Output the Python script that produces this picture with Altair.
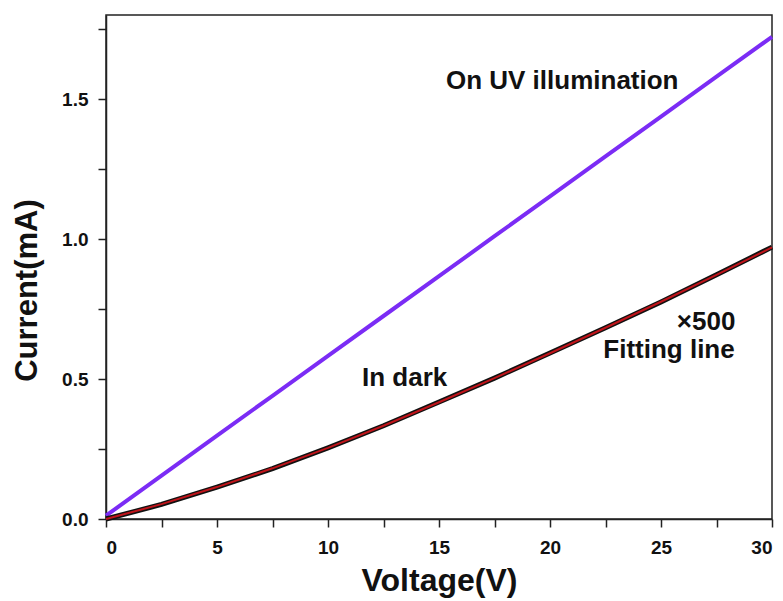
import altair as alt
import pandas as pd

# ---- data ----
voltage = [0, 2.5, 5, 7.5, 10, 12.5, 15, 17.5, 20, 22.5, 25, 27.5, 30]
uv_current = [0.012, 0.155, 0.298, 0.44, 0.583, 0.725, 0.867, 1.01, 1.152, 1.295, 1.437, 1.58, 1.722]
dark_current = [0.0, 0.052, 0.114, 0.18, 0.254, 0.333, 0.418, 0.503, 0.593, 0.683, 0.775, 0.872, 0.971]
fit_current = [0.0, 0.053, 0.114, 0.181, 0.254, 0.333, 0.417, 0.503, 0.592, 0.683, 0.776, 0.872, 0.970]

label_text = ["On UV illumination", "In dark", "×500", "Fitting line"]
label_v = [20.55, 13.45, 27.03, 25.36]
label_i = [1.564, 0.504, 0.704, 0.604]

x_ticks = [0, 2.5, 5, 7.5, 10, 12.5, 15, 17.5, 20, 22.5, 25, 27.5, 30]
y_ticks = [0, 0.25, 0.5, 0.75, 1.0, 1.25, 1.5, 1.75]

df = pd.DataFrame({"V": voltage, "uv": uv_current, "dark": dark_current, "fit": fit_current})
lab = pd.DataFrame({"t": label_text, "V": label_v, "I": label_i})

FONT = "Liberation Sans"

x_enc = alt.X("V:Q", scale=alt.Scale(domain=[0, 30], nice=False, zero=False),
              axis=alt.Axis(values=x_ticks, title="Voltage(V)",
                            labelExpr="datum.value % 5 == 0 ? datum.label : ''",
                            format="d", titleY=71, titleBaseline="alphabetic"))

y_axis = alt.Axis(values=y_ticks, title="Current(mA)",
                  labelExpr="datum.value % 0.5 == 0 ? format(datum.value, '.1f') : ''",
                  titleX=-63, titleY=275, titleBaseline="bottom", titleAngle=-90,
                  titleFontSize=31)
y_scale = alt.Scale(domain=[0, 1.8], nice=False)

base = alt.Chart(df)

uv = base.mark_line(color="#7b2cf5", strokeWidth=4).encode(
    x=x_enc, y=alt.Y("uv:Q", scale=y_scale, axis=y_axis))
dark = base.mark_line(color="#111111", strokeWidth=5).encode(
    x=x_enc, y=alt.Y("dark:Q", scale=y_scale, axis=y_axis))
fit = base.mark_line(color="#c0141a", strokeWidth=2).encode(
    x=x_enc, y=alt.Y("fit:Q", scale=y_scale, axis=y_axis))

texts = alt.Chart(lab).mark_text(font=FONT, fontWeight="bold", fontSize=26,
                                 color="#111111", align="center", baseline="middle").encode(
    x=alt.X("V:Q", scale=alt.Scale(domain=[0, 30], nice=False)),
    y=alt.Y("I:Q", scale=y_scale),
    text="t:N")

chart = alt.layer(uv, dark, fit, texts).properties(
    width=666, height=504,
    padding={"left": 98, "top": 7, "right": 3, "bottom": 90},
    autosize=alt.AutoSizeParams(type="none"),
    background="white",
).configure_view(
    stroke="#222222", strokeWidth=1.5
).configure_axis(
    domainColor="#222222", domainWidth=1.5,
    tickColor="#222222", tickWidth=1.5, tickSize=8,
    grid=False,
    labelFont=FONT, labelFontWeight="bold", labelFontSize=19, labelColor="#111111",
    titleFont=FONT, titleFontWeight="bold", titleFontSize=32, titleColor="#111111",
).configure_axisX(
    labelPadding=11
).configure_axisY(
    labelPadding=10
)

chart.save("out.html", embed_options={"renderer": "svg", "actions": False})
